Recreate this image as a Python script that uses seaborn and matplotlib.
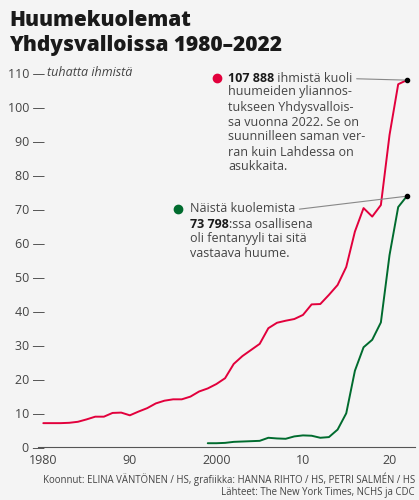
import pandas as pd
import matplotlib.pyplot as plt
import seaborn as sns

# Drug overdose deaths in the US, thousands
years_all = list(range(1980, 2023))
deaths_all = [7.1, 7.1, 7.1, 7.2, 7.5, 8.2, 9.0, 9.0, 10.1, 10.2,
              9.4, 10.5, 11.5, 12.9, 13.7, 14.1, 14.1, 14.9, 16.4, 17.3,
              18.6, 20.3, 24.5, 26.8, 28.6, 30.4, 35.0, 36.6, 37.2, 37.7,
              38.9, 42.0, 42.1, 44.8, 47.7, 53.0, 63.4, 70.3, 67.8, 71.2,
              91.8, 106.7, 107.9]

years_fent = list(range(1999, 2023))
deaths_fent = [1.2, 1.2, 1.3, 1.6, 1.7, 1.8, 1.9, 2.8, 2.6, 2.5,
               3.2, 3.5, 3.4, 2.8, 3.0, 5.2, 10.0, 22.5, 29.4, 31.6,
               36.7, 56.5, 70.6, 73.8]

yticks = [0, 10, 20, 30, 40, 50, 60, 70, 80, 90, 100, 110]
xticks = [1980, 1990, 2000, 2010, 2020]
xlabels = ["1980", "90", "2000", "10", "20"]

RED = "#e2003c"
GREEN = "#006b2e"
BG = "#f4f4f4"
GREY = "#444444"
FS = 9

df = pd.concat([
    pd.DataFrame({"vuosi": years_all, "kuolemat": deaths_all, "sarja": "kaikki"}),
    pd.DataFrame({"vuosi": years_fent, "kuolemat": deaths_fent, "sarja": "fentanyyli"}),
])

sns.set_style("white")
plt.rcParams["font.family"] = ["Open Sans", "DejaVu Sans"]

W, H = 419, 500
fig = plt.figure(figsize=(W / 100, H / 100), dpi=100, facecolor=BG)


def fx(px):
    return px / W


def fy(py):
    return 1 - py / H


ax = fig.add_axes([fx(38.1), fy(447.3), fx(415.5) - fx(38.1), fy(66.2) - fy(447.3)])
ax.set_facecolor(BG)

sns.lineplot(data=df, x="vuosi", y="kuolemat", hue="sarja",
             palette={"kaikki": RED, "fentanyyli": GREEN},
             linewidth=1.4, legend=False, ax=ax)

ax.set_xlim(1979.4, 2023.0)
ax.set_ylim(0, 112)
ax.set_xlabel("")
ax.set_ylabel("")

for s in ["top", "right", "left"]:
    ax.spines[s].set_visible(False)
ax.spines["bottom"].set_color("#555555")
ax.spines["bottom"].set_linewidth(0.8)

ax.set_xticks(xticks)
ax.set_xticklabels(xlabels)
ax.tick_params(axis="x", length=4, width=0.6, color="#777777",
               labelsize=FS, labelcolor=GREY, pad=1)
ax.set_yticks(yticks)
ax.set_yticklabels([f"{v} —" for v in yticks])
ax.tick_params(axis="y", length=0, labelsize=FS, labelcolor=GREY, pad=-5)

fig.text(fx(47), fy(73), "tuhatta ihmistä", fontsize=FS, style="italic",
         color=GREY, va="center", ha="left")

# endpoints
ax.scatter([years_all[-1], years_fent[-1]], [deaths_all[-1], deaths_fent[-1]],
           s=9, color="black", zorder=5, clip_on=False)

# title
fig.text(fx(9), fy(20), "Huumekuolemat", fontsize=15, fontweight="heavy",
         color="#1a1a1a", va="center", ha="left")
fig.text(fx(9), fy(45), "Yhdysvalloissa 1980–2022", fontsize=15,
         fontweight="heavy", color="#1a1a1a", va="center", ha="left")

# red annotation
ax.scatter([fx(217)], [fy(78)], s=36, color=RED, transform=fig.transFigure,
           clip_on=False)
t1 = fig.text(fx(228), fy(78), "107 888", fontsize=FS, fontweight="bold",
              color="#1a1a1a", va="center", ha="left")
t2 = ax.annotate(" ihmistä kuoli", xy=(1, 0), xycoords=t1, fontsize=FS,
                 color=GREY, va="bottom", ha="left")
ax.annotate("", xy=(years_all[-1], deaths_all[-1]), xycoords="data",
            xytext=(1, 0.45), textcoords=t2,
            arrowprops=dict(arrowstyle="-", color="#888888", lw=0.8,
                            shrinkA=3, shrinkB=0))
fig.text(fx(228), fy(85.5), "huumeiden yliannos-\ntukseen Yhdysvallois-\n"
         "sa vuonna 2022. Se on\nsuunnilleen saman ver-\nran kuin Lahdessa on\n"
         "asukkaita.", fontsize=FS, color=GREY, va="top", ha="left",
         linespacing=1.2)

# green annotation
ax.scatter([fx(178)], [fy(209)], s=36, color=GREEN, transform=fig.transFigure,
           clip_on=False)
t3 = fig.text(fx(190), fy(209), "Näistä kuolemista", fontsize=FS,
              color=GREY, va="center", ha="left")
ax.annotate("", xy=(years_fent[-1], deaths_fent[-1]), xycoords="data",
            xytext=(1, 0.45), textcoords=t3,
            arrowprops=dict(arrowstyle="-", color="#888888", lw=0.8,
                            shrinkA=3, shrinkB=0))
t4 = fig.text(fx(190), fy(224), "73 798", fontsize=FS, fontweight="bold",
              color="#1a1a1a", va="center", ha="left")
ax.annotate(":ssa osallisena", xy=(1, 0), xycoords=t4, fontsize=FS,
            color=GREY, va="bottom", ha="left")
fig.text(fx(190), fy(231.5), "oli fentanyyli tai sitä\nvastaava huume.",
         fontsize=FS, color=GREY, va="top", ha="left", linespacing=1.2)

# footer
fig.text(fx(415), fy(479), "Koonnut: ELINA VÄNTÖNEN / HS, grafiikka: HANNA RIHTO / HS, PETRI SALMÉN / HS",
         fontsize=6.9, color=GREY, va="center", ha="right")
fig.text(fx(415), fy(492), "Lähteet: The New York Times, NCHS ja CDC",
         fontsize=6.9, color=GREY, va="center", ha="right")

fig.savefig("out.png", dpi=100, facecolor=BG)
